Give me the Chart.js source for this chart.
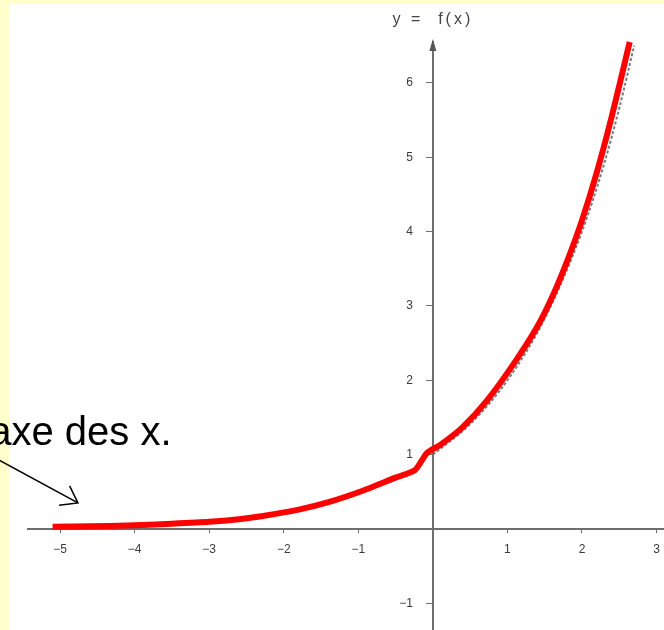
<!DOCTYPE html>
<html>
<head>
<meta charset="utf-8">
<script src="https://cdn.jsdelivr.net/npm/chart.js@4"></script>
<style>
  html, body { margin: 0; padding: 0; background: #ffffcc; }
  #wrap { width: 664px; height: 630px; }
</style>
</head>
<body>
<div id="wrap"><canvas id="graph" width="664" height="630"></canvas></div>
<script>
// red curve
const curveX = [-5.1, -4.6, -4.1, -3.5, -3.0, -2.6, -2.3, -1.8, -1.4, -0.95, -0.5, -0.24, -0.08, 0.1, 0.4, 0.72, 1.07, 1.4, 1.6, 1.8, 2.0, 2.2, 2.4, 2.64];
const curveY = [0.03, 0.035, 0.045, 0.07, 0.095, 0.13, 0.17, 0.26, 0.36, 0.51, 0.69, 0.79, 1.02, 1.13, 1.37, 1.72, 2.2, 2.72, 3.12, 3.6, 4.15, 4.8, 5.55, 6.55];
// thin grey curve underneath
const refX = [0, 0.5, 1, 1.5, 2, 2.3, 2.5, 2.7];
const refY = [1.0, 1.41, 2.0, 2.83, 4.0, 4.92, 5.66, 6.5];

const xTickValues = [-5, -4, -3, -2, -1, 1, 2, 3];
const yTickValues = [-1, 1, 2, 3, 4, 5, 6];
const xRange = [-5.43, 3.1];
const yRange = [-1.36, 6.55];

const axisTitle = 'y =  f(x)';
const noteText = 'axe des x.';
const noteAt = [-5.95, 1.13];
const arrowFrom = [-5.81, 0.92];
const arrowTo = [-4.76, 0.35];

const toPoints = (xs, ys) => xs.map((v, i) => ({ x: v, y: ys[i] }));
const minus = v => String(v).replace('-', '\u2212');
const labelFont = { family: '"Liberation Sans", Arial, sans-serif', size: 12 };

// centred axes should not take any room from the plot
const noRoom = s => {
  if (s.isHorizontal()) s.height = 0; else s.width = 0;
  s.paddingLeft = s.paddingRight = s.paddingTop = s.paddingBottom = 0;
};

const decor = {
  id: 'decor',
  beforeDraw(chart) {
    const ctx = chart.ctx;
    ctx.save();
    ctx.fillStyle = '#ffffcc';
    ctx.fillRect(0, 0, chart.width, chart.height);
    ctx.fillStyle = '#ffffff';
    ctx.fillRect(9, 4, chart.width - 9, chart.height - 4);
    ctx.restore();
  },
  afterDraw(chart) {
    const { ctx, scales: { x, y } } = chart;
    const x0 = x.getPixelForValue(0);
    const top = chart.chartArea.top;
    ctx.save();
    // arrow tip on the y axis
    ctx.fillStyle = '#555';
    ctx.beginPath();
    ctx.moveTo(x0, top - 3);
    ctx.lineTo(x0 - 3.5, top + 9);
    ctx.lineTo(x0 + 3.5, top + 9);
    ctx.closePath();
    ctx.fill();

    ctx.font = '16px "Liberation Sans", Arial, sans-serif';
    ctx.fillStyle = '#444';
    ctx.textAlign = 'center';
    ctx.textBaseline = 'middle';
    try { ctx.letterSpacing = '3px'; } catch (e) {}
    ctx.fillText(axisTitle, x0, 20);
    try { ctx.letterSpacing = '0px'; } catch (e) {}

    // note + arrow
    ctx.font = '40px "Liberation Sans", Arial, sans-serif';
    ctx.fillStyle = '#000';
    ctx.textAlign = 'left';
    ctx.textBaseline = 'alphabetic';
    ctx.fillText(noteText, x.getPixelForValue(noteAt[0]), y.getPixelForValue(noteAt[1]));

    const ax = x.getPixelForValue(arrowFrom[0]), ay = y.getPixelForValue(arrowFrom[1]);
    const bx = x.getPixelForValue(arrowTo[0]), by = y.getPixelForValue(arrowTo[1]);
    const ang = Math.atan2(ay - by, ax - bx);
    ctx.strokeStyle = '#000';
    ctx.lineWidth = 1.5;
    ctx.beginPath();
    ctx.moveTo(ax, ay);
    ctx.lineTo(bx, by);
    ctx.moveTo(bx + 19 * Math.cos(ang - 0.62), by + 19 * Math.sin(ang - 0.62));
    ctx.lineTo(bx, by);
    ctx.lineTo(bx + 19 * Math.cos(ang + 0.62), by + 19 * Math.sin(ang + 0.62));
    ctx.stroke();
    ctx.restore();
  }
};

new Chart(document.getElementById('graph'), {
  type: 'scatter',
  data: {
    datasets: [{
      data: toPoints(curveX, curveY),
      showLine: true,
      borderColor: '#ff0000',
      borderWidth: 6,
      pointRadius: 0,
      tension: 0.2,
      clip: false
    }, {
      data: toPoints(refX, refY),
      showLine: true,
      borderColor: 'rgba(100,100,100,0.85)',
      borderWidth: 2,
      borderDash: [3, 2],
      pointRadius: 0,
      cubicInterpolationMode: 'monotone',
      clip: false
    }]
  },
  options: {
    responsive: false,
    animation: false,
    devicePixelRatio: 1,
    layout: { padding: { left: 28, top: 42, right: 0, bottom: 0 } },
    plugins: { legend: { display: false }, tooltip: { enabled: false } },
    scales: {
      x: {
        type: 'linear',
        position: { y: 0 },
        min: xRange[0],
        max: xRange[1],
        afterBuildTicks: s => { s.ticks = xTickValues.map(v => ({ value: v })); },
        afterFit: noRoom,
        border: { display: true, color: '#6e6e6e', width: 2 },
        grid: { drawOnChartArea: false, color: '#6e6e6e', tickLength: 3 },
        ticks: { autoSkip: false, maxRotation: 0, padding: 11, color: '#3a3a3a', font: labelFont, callback: v => minus(v) }
      },
      y: {
        type: 'linear',
        position: { x: 0 },
        min: yRange[0],
        max: yRange[1],
        afterBuildTicks: s => { s.ticks = yTickValues.map(v => ({ value: v })); },
        afterFit: noRoom,
        border: { display: true, color: '#6e6e6e', width: 2 },
        grid: { drawOnChartArea: false, color: '#6e6e6e', tickLength: 6 },
        ticks: { autoSkip: false, color: '#3a3a3a', font: labelFont, callback: v => minus(v) + '      ' }
      }
    }
  },
  plugins: [decor]
});
</script>
</body>
</html>
